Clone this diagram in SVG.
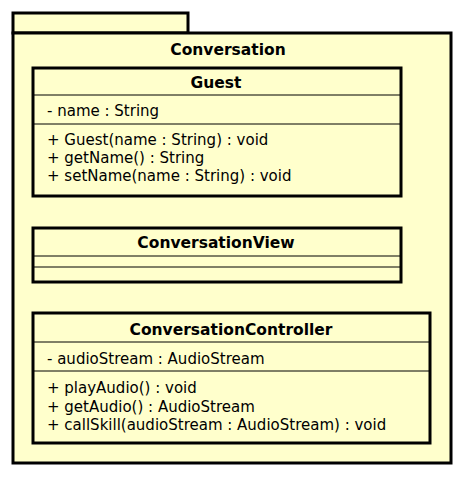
<svg xmlns="http://www.w3.org/2000/svg" width="464" height="477" viewBox="0 0 464 477">
<style>
.pkg{fill:#ffffcc;stroke:#000;stroke-width:3}
.box{fill:#ffffcc;stroke:#000;stroke-width:3}
.sep{stroke:#000;stroke-width:1}
.t{font-family:"DejaVu Sans",sans-serif;font-size:15.5px;font-weight:bold;text-anchor:middle;fill:#000}
.m{font-family:"DejaVu Sans",sans-serif;font-size:15px;fill:#000}
</style>
<rect width="464" height="477" fill="#fff"/>
<g id="package-Conversation">
<rect class="pkg" x="13" y="13" width="175" height="20"/>
<rect class="pkg" x="13" y="33" width="438" height="430"/>
<text class="t" x="228" y="55">Conversation</text>
</g>
<g id="Guest">
<rect class="box" x="33" y="68" width="368" height="128"/>
<line class="sep" x1="33" y1="95" x2="401" y2="95"/>
<line class="sep" x1="33" y1="124" x2="401" y2="124"/>
<text class="t" x="216" y="88">Guest</text>
<text class="m" x="47" y="116">- name : String</text>
<text class="m" x="47" y="145">+ Guest(name : String) : void</text>
<text class="m" x="47" y="163">+ getName() : String</text>
<text class="m" x="47" y="181">+ setName(name : String) : void</text>
</g>
<g id="ConversationView">
<rect class="box" x="33" y="228" width="368" height="54"/>
<line class="sep" x1="33" y1="256" x2="401" y2="256"/>
<line class="sep" x1="33" y1="267" x2="401" y2="267"/>
<text class="t" x="216" y="248">ConversationView</text>
</g>
<g id="ConversationController">
<rect class="box" x="33" y="313" width="397" height="130"/>
<line class="sep" x1="33" y1="342" x2="430" y2="342"/>
<line class="sep" x1="33" y1="371" x2="430" y2="371"/>
<text class="t" x="231" y="335">ConversationController</text>
<text class="m" x="47" y="364">- audioStream : AudioStream</text>
<text class="m" x="47" y="393">+ playAudio() : void</text>
<text class="m" x="47" y="412">+ getAudio() : AudioStream</text>
<text class="m" x="47" y="430">+ callSkill(audioStream : AudioStream) : void</text>
</g>
<g id="connectors"></g>
</svg>
